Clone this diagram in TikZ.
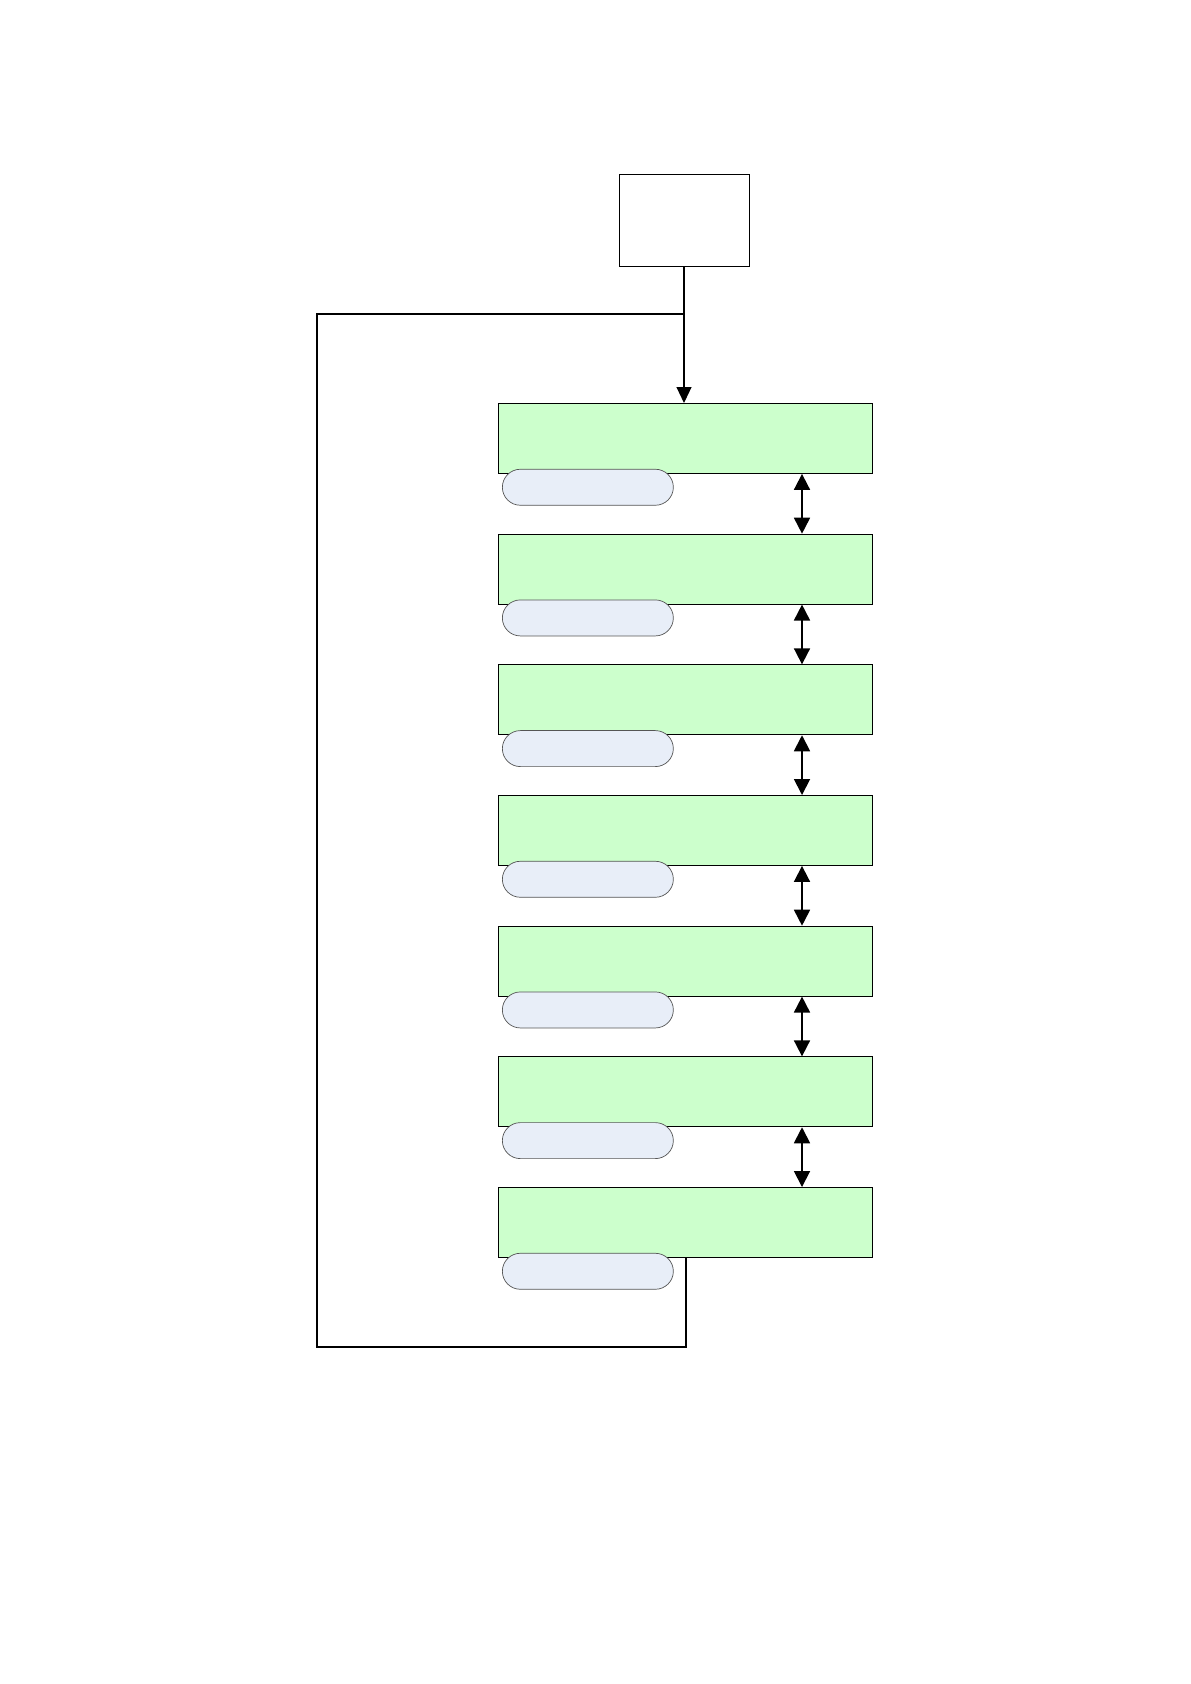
\documentclass[tikz,border=0pt]{standalone}
\usetikzlibrary{arrows.meta,calc}
\definecolor{boxgreen}{HTML}{CCFFCC}
\definecolor{pillblue}{HTML}{E8EEF8}
\definecolor{pillline}{HTML}{555555}
\begin{document}
\begin{tikzpicture}[x=1pt,y=-1pt,
  topbox/.style={draw,line width=0.9pt,minimum width=130pt,minimum height=92pt,inner sep=0pt},
  greenbox/.style={draw,fill=boxgreen,line width=0.9pt,minimum width=374pt,minimum height=70pt,inner sep=0pt},
  pill/.style={draw=pillline,fill=pillblue,line width=0.7pt,rounded corners=18pt,minimum width=171pt,minimum height=36pt,inner sep=0pt},
  loopline/.style={line width=1.6pt},
  feed/.style={line width=1.1pt,-{Triangle[length=16pt,width=15pt]}},
  dbl/.style={line width=1.8pt,{Triangle[length=16pt,width=16pt]}-{Triangle[length=16pt,width=16pt]}}]
\useasboundingbox (0,0) rectangle (1191,1684);
\fill[white] (0,0) rectangle (1191,1684);
\node[topbox] (top) at (684,220) {};
\foreach \i in {1,...,7}{
  \pgfmathsetmacro{\yt}{403+(\i-1)*130.67}
  \node[greenbox,anchor=north west] (g\i) at (498,\yt) {};
}
\foreach \i in {1,...,7}{
  \node[pill,anchor=north west] (p\i) at ($(g\i.south west)+(4,-5)$) {};
}
\coordinate (ax) at (802,0);
\coordinate (ly) at (0,314);
\coordinate (split) at (top.south |- ly);
\draw[line width=1.1pt] (top.south) -- (split);
\draw[feed] (split) -- (split |- g1.north);
\draw[loopline] (split) -- (317,314) -- (317,1347) -- (686,1347) -- (686,1257);
\foreach \i/\j in {1/2,2/3,3/4,4/5,5/6,6/7}{
  \draw[dbl] (ax |- g\i.south) -- (ax |- g\j.north);
}
\end{tikzpicture}
\end{document}
